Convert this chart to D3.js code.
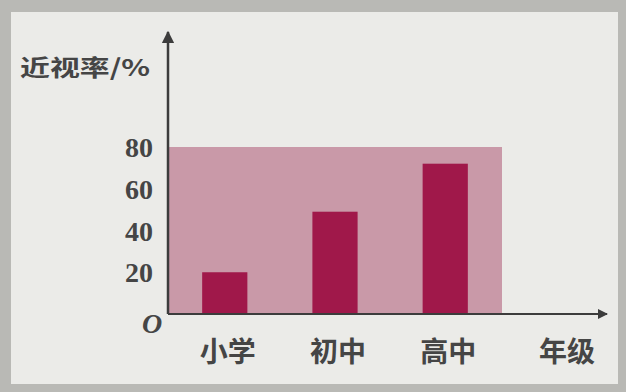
<!DOCTYPE html>
<html>
<head>
<meta charset="utf-8">
<script src="https://cdn.jsdelivr.net/npm/d3@7"></script>
<style>
  html, body { margin: 0; padding: 0; background: #b9b9b5; }
  svg { display: block; }
</style>
</head>
<body>
<div id="chart"></div>
<script>
// grades and myopia rate (%)
const grades = ['小学', '初中', '高中'];
const rates = [20, 49, 72];
const yTicks = [20, 40, 60, 80];
const yMax = 80;

const width = 626;
const height = 392;

const svg = d3.select('#chart').append('svg')
  .attr('width', width)
  .attr('height', height);

// scanned page: grey frame round a light sheet
svg.append('rect')
  .attr('width', width).attr('height', height)
  .attr('fill', '#b9b9b5');
svg.append('rect')
  .attr('x', 11).attr('y', 12)
  .attr('width', 607).attr('height', 372)
  .attr('fill', '#ebebe8');

const x = d3.scaleBand()
  .domain(grades)
  .range([168, 502])
  .paddingInner(0.59)
  .paddingOuter(0.31);

const y = d3.scaleLinear()
  .domain([0, yMax])
  .range([314, 147]);

// shaded plot area up to 80%
svg.append('rect')
  .attr('x', x.range()[0])
  .attr('y', y(yMax))
  .attr('width', x.range()[1] - x.range()[0])
  .attr('height', y(0) - y(yMax))
  .attr('fill', '#c999a8');

svg.selectAll('.bar')
  .data(rates)
  .enter().append('rect')
  .attr('class', 'bar')
  .attr('x', (d, i) => x(grades[i]))
  .attr('y', d => y(d))
  .attr('width', x.bandwidth())
  .attr('height', d => y(0) - y(d))
  .attr('fill', '#a0184a');

// axes with arrow heads
const axisColor = '#3c3c3c';
svg.append('defs').append('marker')
  .attr('id', 'arrow')
  .attr('viewBox', '0 0 10 10')
  .attr('refX', 9).attr('refY', 5)
  .attr('markerWidth', 5).attr('markerHeight', 5)
  .attr('orient', 'auto')
  .append('path')
  .attr('d', 'M0,0 L10,5 L0,10 z')
  .attr('fill', axisColor);

svg.append('line')
  .attr('x1', 168).attr('y1', y(0))
  .attr('x2', 168).attr('y2', 32)
  .attr('stroke', axisColor).attr('stroke-width', 2.5)
  .attr('marker-end', 'url(#arrow)');

svg.append('line')
  .attr('x1', 168).attr('y1', y(0))
  .attr('x2', 607).attr('y2', y(0))
  .attr('stroke', axisColor).attr('stroke-width', 2)
  .attr('marker-end', 'url(#arrow)');

const textColor = '#454545';

svg.selectAll('.ytick')
  .data(yTicks)
  .enter().append('text')
  .attr('class', 'ytick')
  .attr('x', 153)
  .attr('y', d => y(d) + 10)
  .attr('text-anchor', 'end')
  .style('font-family', '"Liberation Serif", serif')
  .style('font-size', '28px')
  .style('font-weight', 'bold')
  .style('fill', textColor)
  .text(d => d);

svg.append('text')
  .attr('x', 152).attr('y', 333)
  .attr('text-anchor', 'middle')
  .style('font-family', '"Liberation Serif", serif')
  .style('font-size', '28px')
  .style('font-style', 'italic')
  .style('font-weight', 'bold')
  .style('fill', textColor)
  .text('O');

svg.selectAll('.xlabel')
  .data(grades.concat(['年级']))
  .enter().append('text')
  .attr('class', 'xlabel')
  .attr('x', (d, i) => i < grades.length ? x(d) + x.bandwidth() / 2 + 3 : 567)
  .attr('y', 362)
  .attr('text-anchor', 'middle')
  .style('font-family', '"Noto Sans CJK SC", sans-serif')
  .style('font-size', '28px')
  .style('font-weight', 'bold')
  .style('fill', textColor)
  .text(d => d);

// the scan is stretched sideways, so the axis title is wider than tall
svg.append('text')
  .attr('transform', 'translate(20,76) scale(1.3,1)')
  .style('font-family', '"Noto Sans CJK SC", sans-serif')
  .style('font-size', '23px')
  .style('font-weight', 'bold')
  .style('fill', textColor)
  .text('近视率/%');
</script>
</body>
</html>
